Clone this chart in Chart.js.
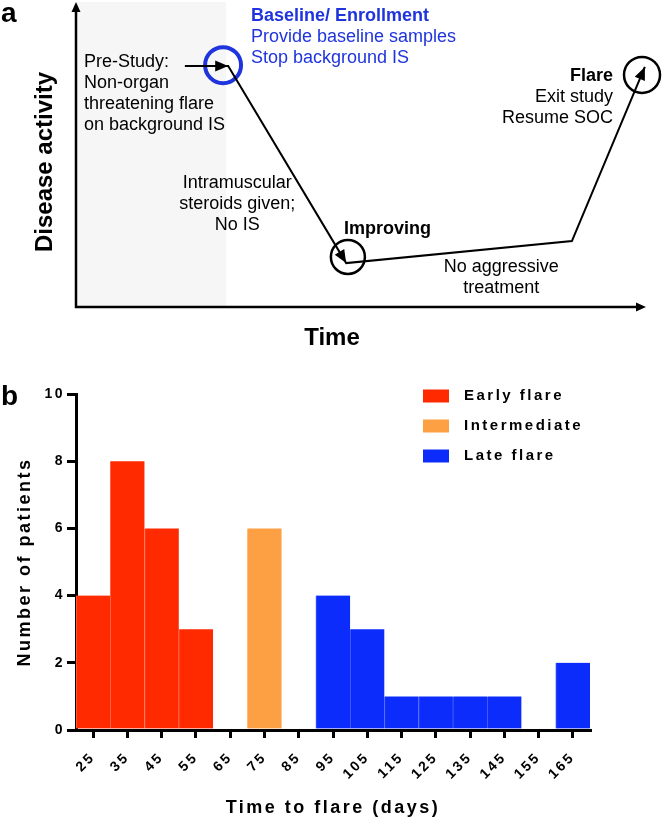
<!DOCTYPE html>
<html>
<head>
<meta charset="utf-8">
<script src="https://cdn.jsdelivr.net/npm/chart.js@4.4.1/dist/chart.umd.min.js"></script>
<style>
  html, body { margin: 0; padding: 0; background: #fff; }
  canvas { display: block; }
</style>
</head>
<body>
<canvas id="schemeChart" width="663" height="356"></canvas>
<canvas id="flareChart" width="663" height="464"></canvas>
<script>
// Panel a: schematic course (time and activity on 0-100 scales)
const pathTime = [19.1, 26.7, 47.4, 87.0, 99.8];
const pathActivity = [79.0, 79.0, 14.4, 21.6, 78.7];
const arrowSegments = [0, 1, 3];
const stageTime = [25.8, 47.7, 99.3];
const stageActivity = [79.3, 16.4, 76.1];
const preStudyEnd = 26.3;

const notes = [
    { lines: ['Pre-Study:', 'Non-organ', 'threatening flare', 'on background IS'], x: 1.4, y: 80.3, align: 'left' },
    { lines: ['Baseline/ Enrollment', 'Provide baseline samples', 'Stop background IS'], x: 30.7, y: 95.4, align: 'left', bold: true, blue: true },
    { lines: ['Intramuscular', 'steroids given;', 'No IS'], x: 28.3, y: 40.7, align: 'center' },
    { lines: ['Improving'], x: 47.0, y: 25.6, align: 'left', bold: true },
    { lines: ['No aggressive', 'treatment'], x: 74.6, y: 13.1, align: 'center' },
    { lines: ['Flare', 'Exit study', 'Resume SOC'], x: 94.2, y: 75.7, align: 'right', bold: true }
];

// Panel b: histogram of time to flare
const binLabels = ['25', '35', '45', '55', '65', '75', '85', '95', '105', '115', '125', '135', '145', '155', '165'];
const earlyFlare = [4, 8, 6, 3, null, null, null, null, null, null, null, null, null, null, null];
const intermediate = [null, null, null, null, null, 6, null, null, null, null, null, null, null, null, null];
const lateFlare = [null, null, null, null, null, null, null, 4, 3, 1, 1, 1, 1, null, 2];

const FONT = '"Liberation Sans", Arial, sans-serif';
const BLUE = '#1f34dc';
Chart.defaults.font.family = FONT;
Chart.defaults.color = '#000';

function arrowHead(ctx, x, y, angle, len, half) {
    ctx.save();
    ctx.translate(x, y);
    ctx.rotate(angle);
    ctx.beginPath();
    ctx.moveTo(0, 0);
    ctx.lineTo(-len, -half);
    ctx.lineTo(-len, half);
    ctx.closePath();
    ctx.fill();
    ctx.restore();
}

const schemePlugin = {
    id: 'scheme',
    beforeDatasetsDraw(chart) {
        const { ctx, chartArea: a, scales: { x } } = chart;
        ctx.save();
        ctx.fillStyle = '#f6f6f6';
        ctx.fillRect(a.left, a.top, x.getPixelForValue(preStudyEnd) - a.left, a.bottom - a.top);
        ctx.restore();
    },
    afterDatasetsDraw(chart) {
        const { ctx, chartArea: a, scales: { x, y } } = chart;
        ctx.save();
        ctx.strokeStyle = '#000';
        ctx.fillStyle = '#000';
        ctx.lineWidth = 2.5;
        ctx.beginPath();
        ctx.moveTo(a.left, a.top + 6);
        ctx.lineTo(a.left, a.bottom);
        ctx.lineTo(a.right - 6, a.bottom);
        ctx.stroke();
        arrowHead(ctx, a.left, a.top, -Math.PI / 2, 10, 4.5);
        arrowHead(ctx, a.right, a.bottom, 0, 10, 4.5);

        // arrowheads on the course line
        const pts = chart.getDatasetMeta(0).data;
        arrowSegments.forEach(i => {
            const p = pts[i], q = pts[i + 1];
            arrowHead(ctx, q.x, q.y, Math.atan2(q.y - p.y, q.x - p.x), 13, 5.5);
        });

        // annotations
        ctx.textBaseline = 'middle';
        notes.forEach(n => {
            ctx.textAlign = n.align;
            ctx.fillStyle = n.blue ? BLUE : '#000';
            n.lines.forEach((line, j) => {
                ctx.font = (n.bold && j === 0 ? 'bold ' : '') + '18px ' + FONT;
                ctx.fillText(line, x.getPixelForValue(n.x), y.getPixelForValue(n.y) + j * 21);
            });
        });

        // axis titles and panel letter
        ctx.fillStyle = '#000';
        ctx.font = 'bold 24px ' + FONT;
        ctx.textAlign = 'center';
        ctx.fillText('Time', 332, 338);
        ctx.save();
        ctx.translate(45, 162);
        ctx.rotate(-Math.PI / 2);
        ctx.fillText('Disease activity', 0, 0);
        ctx.restore();
        ctx.textAlign = 'left';
        ctx.textBaseline = 'alphabetic';
        ctx.font = 'bold 28px ' + FONT;
        ctx.fillText('a', 1, 22);
        ctx.restore();
    }
};

new Chart(document.getElementById('schemeChart'), {
    type: 'line',
    data: {
        datasets: [
            {
                data: pathTime.map((t, i) => ({ x: t, y: pathActivity[i] })),
                borderColor: '#000',
                borderWidth: 2,
                pointRadius: 0,
                tension: 0,
                clip: false
            },
            {
                data: stageTime.map((t, i) => ({ x: t, y: stageActivity[i] })),
                showLine: false,
                pointRadius: [18, 17, 18],
                pointBorderWidth: [4, 2.5, 2.5],
                pointBorderColor: [BLUE, '#000', '#000'],
                pointBackgroundColor: 'rgba(0,0,0,0)',
                clip: false
            }
        ]
    },
    options: {
        responsive: false,
        animation: false,
        events: [],
        layout: { autoPadding: false, padding: { left: 76, right: 17, top: 2, bottom: 49 } },
        plugins: { legend: { display: false }, tooltip: { enabled: false } },
        scales: {
            x: { type: 'linear', min: 0, max: 100, display: false },
            y: { type: 'linear', min: 0, max: 100, display: false }
        }
    },
    plugins: [schemePlugin]
});

const histPlugin = {
    id: 'histExtras',
    beforeDraw(chart) {
        chart.ctx.letterSpacing = '2.5px';
    },
    afterDraw(chart) {
        const { ctx } = chart;
        ctx.save();
        ctx.font = 'bold 15px ' + FONT;
        ctx.textBaseline = 'middle';
        ctx.textAlign = 'left';
        chart.data.datasets.forEach((ds, i) => {
            const cy = 40 + i * 30;
            ctx.fillStyle = ds.backgroundColor;
            ctx.fillRect(423, cy - 6.5, 26, 13);
            ctx.fillStyle = '#000';
            ctx.fillText(ds.label, 464, cy);
        });
        ctx.letterSpacing = '0px';
        ctx.font = 'bold 28px ' + FONT;
        ctx.textBaseline = 'alphabetic';
        ctx.fillText('b', 1, 49);
        ctx.restore();
        ctx.letterSpacing = '0px';
    }
};

const tickFont = { size: 14, weight: 'bold' };
const titleFont = { size: 18, weight: 'bold' };

new Chart(document.getElementById('flareChart'), {
    type: 'bar',
    data: {
        labels: binLabels,
        datasets: [
            { label: 'Early flare', data: earlyFlare, backgroundColor: '#ff2a00', borderColor: '#ff6647' },
            { label: 'Intermediate', data: intermediate, backgroundColor: '#fda043', borderColor: '#ffbb78' },
            { label: 'Late flare', data: lateFlare, backgroundColor: '#0b2cfa', borderColor: '#4a62ff' }
        ]
    },
    options: {
        responsive: false,
        animation: false,
        events: [],
        layout: { padding: { left: 0, right: 73, top: 38, bottom: 0 } },
        datasets: { bar: { barPercentage: 1, categoryPercentage: 1, borderWidth: { left: 1 } } },
        plugins: { legend: { display: false }, tooltip: { enabled: false } },
        scales: {
            x: {
                stacked: true,
                grid: { drawOnChartArea: false, offset: false, tickLength: 8, lineWidth: 3, color: '#000' },
                border: { display: true, width: 3, color: '#000' },
                ticks: { font: tickFont, minRotation: 45, maxRotation: 45, autoSkip: false, padding: 11 },
                title: { display: true, text: 'Time to flare (days)', font: titleFont, padding: { top: 0, bottom: 1 } },
                afterFit(scale) { scale.height = 90; }
            },
            y: {
                stacked: true,
                min: 0,
                max: 10,
                grid: { drawOnChartArea: false, tickLength: 9, lineWidth: 3, color: '#000' },
                border: { display: true, width: 3, color: '#000' },
                ticks: { stepSize: 2, font: tickFont, padding: 2 },
                title: { display: true, text: 'Number of patients', font: titleFont, padding: { top: 14, bottom: 0 } },
                afterFit(scale) { scale.width = 76; }
            }
        }
    },
    plugins: [histPlugin]
});
</script>
</body>
</html>
